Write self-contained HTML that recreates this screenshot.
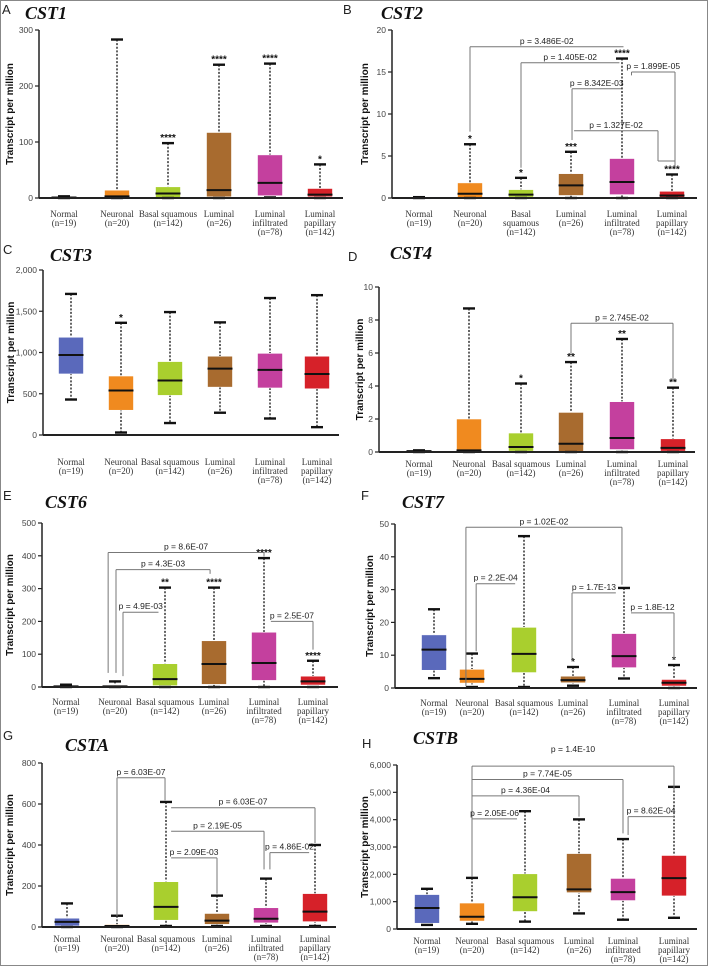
<!DOCTYPE html>
<html><head><meta charset="utf-8"><style>
html,body{margin:0;padding:0;background:#fff}
svg{display:block}
text{font-family:"Liberation Sans",sans-serif}
.cat{font-family:"Liberation Serif",serif;font-size:9px;fill:#333}
.tick{font-family:"Liberation Sans",sans-serif;font-size:8.5px;fill:#444}
.title{font-family:"Liberation Serif",serif;font-weight:bold;font-style:italic;font-size:18px;fill:#111}
.letter{font-size:13px;fill:#222}
.yt{font-size:10px;font-weight:bold;fill:#111}
.star{font-size:10px;font-weight:bold;fill:#111}
.pl{font-size:8.5px;fill:#222}
</style></head><body>
<svg id="fig" width="708" height="966" viewBox="0 0 708 966">
<rect x="0.5" y="0.5" width="707" height="965" fill="#fff" stroke="#888"/>
</svg>
<script>
// ---- data ----
const categories = ["Normal","Neuronal","Basal squamous","Luminal","Luminal infiltrated","Luminal papillary"];
const sampleSizes = ["(n=19)","(n=20)","(n=142)","(n=26)","(n=78)","(n=142)"];
const colors = ["#5a69bb","#f08a1f","#a9cf2e","#a86b2f","#c4409e","#d62129"];

const cst1Lo=[0,0,0,0,1,0], cst1Q1=[0,1,1,2,4,2], cst1Med=[1,3,8,14,27,6], cst1Q3=[2,14,20,117,77,17], cst1Hi=[3,283,98,238,240,60];
const cst1Stars=["","","****","****","****","*"];
const cst2Lo=[0,0,0,0,0,0], cst2Q1=[0,0.05,0.1,0.3,0.4,0.05], cst2Med=[0,0.5,0.4,1.5,1.9,0.3], cst2Q3=[0.05,1.8,1.0,2.9,4.7,0.8], cst2Hi=[0.1,6.4,2.4,5.5,16.6,2.8];
const cst2Stars=["","*","*","***","****","****"];
const cst3Lo=[430,30,145,270,200,95], cst3Q1=[740,300,480,580,570,560], cst3Med=[970,540,660,805,790,740], cst3Q3=[1185,715,890,955,990,955], cst3Hi=[1710,1360,1490,1365,1660,1695];
const cst3Stars=["","*","","","",""];
const cst4Lo=[0,0,0,0,0,0], cst4Q1=[0,0,0.05,0,0.15,0.05], cst4Med=[0.05,0.1,0.3,0.5,0.85,0.25], cst4Q3=[0.1,2.0,1.15,2.4,3.05,0.8], cst4Hi=[0.1,8.7,4.15,5.45,6.85,3.9];
const cst4Stars=["","","*","**","**","**"];
const cst6Lo=[0,0,0,0,0,0], cst6Q1=[1,1,4,8,20,6], cst6Med=[2,2,24,70,73,17], cst6Q3=[5,5,71,141,167,33], cst6Hi=[7,17,303,303,393,80];
const cst6Stars=["","","**","****","****","****"];
const cst7Lo=[3,0.3,0.3,0.7,2.9,0], cst7Q1=[5.4,1.5,4.7,1.6,6.2,0.6], cst7Med=[11.7,2.8,10.4,2.4,9.7,1.6], cst7Q3=[16.2,5.7,18.5,3.6,16.6,2.6], cst7Hi=[24,10.5,46.3,6.4,30.5,7.0];
const cst7Stars=["","","","*","","*"];
const cstaLo=[0,0,5,5,5,5], cstaQ1=[5,0,33,13,20,26], cstaMed=[25,5,98,31,40,75], cstaQ3=[43,12,221,66,94,163], cstaHi=[115,55,610,153,236,400];
const cstaStars=["","","","","",""];
const cstbLo=[150,190,270,570,340,410], cstbQ1=[210,290,640,1330,1040,1210], cstbMed=[770,450,1160,1450,1350,1860], cstbQ3=[1260,950,2020,2760,1850,2690], cstbHi=[1470,1870,4310,4010,3290,5200];
const cstbStars=["","","","","",""];

// brackets: [fromIndex, toIndex, barValue, leftLegBottom, rightLegBottom, label]
const cst2Brackets=[[1,4.03,18,7.9,null,"p = 3.486E-02"],[2,3.95,16.1,3.6,null,"p = 1.405E-02"],[3.02,3.99,13,6.9,null,"p = 8.342E-03"],[4.19,5.06,15,14.6,3.7,"p = 1.899E-05"],[3.06,4.72,8,null,4.4,"p = 1.327E-02"]];
const cst4Brackets=[[3,5,7.8,5.9,4.3,"p = 2.745E-02"]];
const cst6Brackets=[[0.86,4,410,43,398,"p = 8.6E-07"],[1.02,2.92,358,43,345,"p = 4.3E-03"],[1.16,1.87,228,33,null,"p = 4.9E-03"],[4.14,5,200,null,114,"p = 2.5E-07"]];
const cst7Brackets=[[0.84,3.96,49,0.5,31.5,"p = 1.02E-02"],[1.08,1.83,31.8,11.2,null,"p = 2.2E-04"],[2.98,3.84,29,8.1,null,"p = 1.7E-13"],[4.14,5,22.9,null,8.6,"p = 1.8E-12"]];
const cstaBrackets=[[1,1.98,728,52,618,"p = 6.03E-07"],[2.1,5,582,null,410,"p = 6.03E-07"],[2.1,3.96,467,null,281,"p = 2.19E-05"],[2.1,3,337,null,163,"p = 2.09E-03"],[4.08,4.88,363,281,null,"p = 4.86E-02"]];
const cstbBrackets=[[1,5,5960,1920,5030,"p = 1.4E-10"],[1,4,5470,1920,3500,"p = 7.74E-05"],[1,3,4870,1920,4110,"p = 4.36E-04"],[1,1.85,4030,1920,null,"p = 2.05E-06"],[4.1,5,4110,3440,null,"p = 8.62E-04"]];

// ---- layout ----
const NS="http://www.w3.org/2000/svg";
const svg=document.getElementById('fig');
function mk(tag,attrs,parent,txt){const e=document.createElementNS(NS,tag);for(const k in attrs)e.setAttribute(k,attrs[k]);if(txt!==undefined)e.textContent=txt;(parent||svg).appendChild(e);return e;}

const panels=[
 {key:"cst1",title:"CST1",letter:"A",lx:2,ly:14,tx:25,ty:19,ax:39,y0:198,yT:30,vmax:300,step:100,xEnd:343,ytX:10,labY:214,cx:[64,117,168,219,270,320],three:false,comma:false,
  lo:cst1Lo,q1:cst1Q1,med:cst1Med,q3:cst1Q3,hi:cst1Hi,stars:cst1Stars,br:[]},
 {key:"cst2",title:"CST2",letter:"B",lx:343,ly:14,tx:381,ty:19,ax:392,y0:198,yT:30,vmax:20,step:5,xEnd:697,ytX:365,labY:214,cx:[419,470,521,571,622,672],three:true,comma:false,
  lo:cst2Lo,q1:cst2Q1,med:cst2Med,q3:cst2Q3,hi:cst2Hi,stars:cst2Stars,br:cst2Brackets},
 {key:"cst3",title:"CST3",letter:"C",lx:3,ly:254,tx:50,ty:261,ax:43,y0:435,yT:270,vmax:2000,step:500,xEnd:339,ytX:11,labY:462,cx:[71,121,170,220,270,317],three:false,comma:true,
  lo:cst3Lo,q1:cst3Q1,med:cst3Med,q3:cst3Q3,hi:cst3Hi,stars:cst3Stars,br:[]},
 {key:"cst4",title:"CST4",letter:"D",lx:348,ly:261,tx:390,ty:259,ax:379,y0:452,yT:287,vmax:10,step:2,xEnd:695,ytX:360,labY:464,cx:[419,469,521,571,622,673],three:false,comma:false,
  lo:cst4Lo,q1:cst4Q1,med:cst4Med,q3:cst4Q3,hi:cst4Hi,stars:cst4Stars,br:cst4Brackets},
 {key:"cst6",title:"CST6",letter:"E",lx:3,ly:500,tx:45,ty:508,ax:42,y0:687,yT:523,vmax:500,step:100,xEnd:338,ytX:10,labY:702,cx:[66,115,165,214,264,313],three:false,comma:false,
  lo:cst6Lo,q1:cst6Q1,med:cst6Med,q3:cst6Q3,hi:cst6Hi,stars:cst6Stars,br:cst6Brackets},
 {key:"cst7",title:"CST7",letter:"F",lx:361,ly:500,tx:402,ty:508,ax:395,y0:688,yT:524,vmax:50,step:10,xEnd:697,ytX:370,labY:703,cx:[434,472,524,573,624,674],three:false,comma:false,
  lo:cst7Lo,q1:cst7Q1,med:cst7Med,q3:cst7Q3,hi:cst7Hi,stars:cst7Stars,br:cst7Brackets},
 {key:"csta",title:"CSTA",letter:"G",lx:3,ly:740,tx:65,ty:751,ax:42,y0:927,yT:763,vmax:800,step:200,xEnd:336,ytX:10,labY:939,cx:[67,117,166,217,266,315],three:false,comma:false,
  lo:cstaLo,q1:cstaQ1,med:cstaMed,q3:cstaQ3,hi:cstaHi,stars:cstaStars,br:cstaBrackets},
 {key:"cstb",title:"CSTB",letter:"H",lx:362,ly:748,tx:413,ty:744,ax:397,y0:929,yT:765,vmax:6000,step:1000,xEnd:697,ytX:365,labY:941,cx:[427,472,525,579,623,674],three:false,comma:true,
  lo:cstbLo,q1:cstbQ1,med:cstbMed,q3:cstbQ3,hi:cstbHi,stars:cstbStars,br:cstbBrackets}
];

panels.forEach(p=>{
  const g=mk('g',{});
  
  
  const y=v=>p.y0-(v/p.vmax)*(p.y0-p.yT);
  const xi=f=>{const i=Math.floor(Math.min(f,4.999));const t=f-i;return p.cx[i]+(p.cx[i+1]-p.cx[i])*t;};
  const lt=mk('text',{x:p.lx,y:p.ly,class:'letter'},g,p.letter);
  
  
  const tt=mk('text',{x:p.tx,y:p.ty,class:'title'},g,p.title);
  
  
  const yt=mk('text',{x:p.ytX,y:(p.y0+p.yT)/2,class:'yt','text-anchor':'middle',transform:`rotate(-90 ${p.ytX} ${(p.y0+p.yT)/2})`,dy:'3'},g,'Transcript per million');
  
  
  const ya=mk('line',{x1:p.ax,y1:p.yT,x2:p.ax,y2:p.y0,stroke:'#222','stroke-width':1.5},g);
  
  
  for(let v=0;v<=p.vmax+1e-9;v+=p.step){
    const yy=y(v);
    mk('line',{x1:p.ax-4,y1:yy,x2:p.ax,y2:yy,stroke:'#222','stroke-width':1.2},g);
    const lab=p.comma?v.toLocaleString('en-US'):String(v);
    const tk=mk('text',{x:p.ax-6,y:yy+3,class:'tick','text-anchor':'end'},g,lab);
    
    
  }
  categories.forEach((c,i)=>{
    const cx=p.cx[i],w=25;
    const bg=mk('g',{},g);
    
    
    mk('line',{x1:cx,y1:y(p.hi[i]),x2:cx,y2:y(p.lo[i]),stroke:'#111','stroke-width':1.3,'stroke-dasharray':'2,1.6'},bg);
    const bh=Math.max(1.5,y(p.q1[i])-y(p.q3[i]));
    mk('rect',{x:cx-w/2,y:y(p.q3[i]),width:w,height:bh,fill:colors[i],stroke:'#fff','stroke-width':0.6},bg);
    mk('line',{x1:cx-w/2,y1:y(p.med[i]),x2:cx+w/2,y2:y(p.med[i]),stroke:'#111','stroke-width':2},bg);
    mk('line',{x1:cx-6,y1:y(p.hi[i]),x2:cx+6,y2:y(p.hi[i]),stroke:'#111','stroke-width':2.4},bg);
    mk('line',{x1:cx-6,y1:y(p.lo[i]),x2:cx+6,y2:y(p.lo[i]),stroke:'#111','stroke-width':2.4},bg);
    if(p.stars[i]){
      const st=mk('text',{x:cx,y:y(p.hi[i])-2,class:'star','text-anchor':'middle'},g,p.stars[i]);
      
      
    }
    let lines;
    if(p.three){
      lines = i===0?["Normal",sampleSizes[i]]:i===1?["Neuronal",sampleSizes[i]]:i===2?["Basal","squamous",sampleSizes[i]]:i===3?["Luminal",sampleSizes[i]]:i===4?["Luminal","infiltrated",sampleSizes[i]]:["Luminal","papillary",sampleSizes[i]];
    } else {
      lines = i===4?["Luminal","infiltrated",sampleSizes[i]]:i===5?["Luminal","papillary",sampleSizes[i]]:[c,sampleSizes[i]];
    }
    const tl=mk('text',{x:cx,y:p.labY,class:'cat','text-anchor':'middle'},g);
    
    
    lines.forEach((ln,k)=>mk('tspan',{x:cx,dy:k===0?3:9},tl,ln));
  });
  const xa=mk('line',{x1:p.ax,y1:p.y0,x2:p.xEnd,y2:p.y0,stroke:'#222','stroke-width':2},g);
  
  
  p.br.forEach((b,bi)=>{
    const x1=xi(b[0]),x2=xi(b[1]),yb=y(b[2]);
    const bgp=mk('g',{},g);
    
    
    mk('line',{x1:x1,y1:yb,x2:x2,y2:yb,stroke:'#777','stroke-width':1},bgp);
    if(b[3]!==null) mk('line',{x1:x1,y1:yb,x2:x1,y2:y(b[3]),stroke:'#777','stroke-width':1},bgp);
    if(b[4]!==null) mk('line',{x1:x2,y1:yb,x2:x2,y2:y(b[4]),stroke:'#777','stroke-width':1},bgp);
    if(p.key==='cst2'&&bi===4) mk('line',{x1:x2,y1:y(b[4]),x2:xi(5.06),y2:y(b[4]),stroke:'#777','stroke-width':1},bgp);
    const off=(p.key==='cstb'&&bi===0)?14:3;
    mk('text',{x:(x1+x2)/2,y:yb-off,class:'pl','text-anchor':'middle'},bgp,b[5]);
  });
});
</script>
</body></html>
